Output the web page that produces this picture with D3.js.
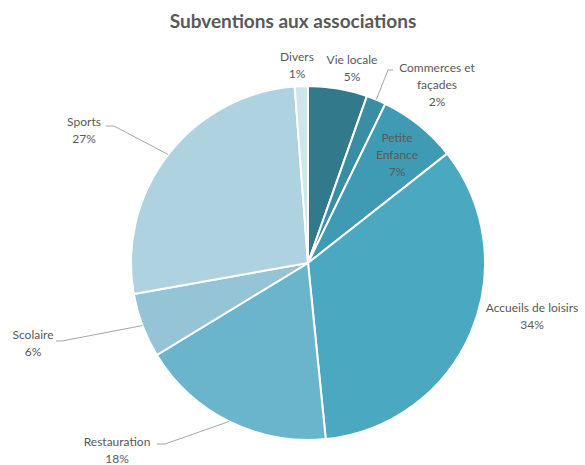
<!DOCTYPE html>
<html>
<head>
<meta charset="utf-8">
<script src="https://cdn.jsdelivr.net/npm/d3@7"></script>
<style>
  body { margin: 0; background: #fff; }
  text { font-family: Lato, 'Liberation Sans', sans-serif; fill: #595959; }
</style>
</head>
<body>
<div id="chart"></div>
<script>
var title = 'Subventions aux associations'
var categories = ['Vie locale', 'Commerces et façades', 'Petite Enfance', 'Accueils de loisirs', 'Restauration', 'Scolaire', 'Sports', 'Divers']
var values = [5.4, 1.8, 7.2, 34.0, 17.9, 5.9, 26.6, 1.2]
var colors = ['#31798b', '#3a8ea4', '#3f9bb3', '#4aa8c1', '#6bb5cc', '#94c4d5', '#aed2df', '#cfe4eb']

// label layout: lines of text and offset of first line from pie centre
var labelLines = [['Vie locale'], ['Commerces et', 'façades'], ['Petite', 'Enfance'], ['Accueils de loisirs'], ['Restauration'], ['Scolaire'], ['Sports'], ['Divers']]
var labelOffset = [[44, -203], [129, -195], [89, -125], [224, 45], [-191, 179], [-275, 72], [-224, -141], [-11, -206]]
// leader lines: [bend point offset, end point offset] or null
var leaders = [null, [[80, -193], [85, -193]], null, null, [[-143, 181], [-151, 181]], [[-246, 78], [-252, 78]], [[-194, -137], [-202, -137]], null]

var width = 585
var height = 465
var cx = 308
var cy = 263
var radius = 177

var svg = d3.select('#chart')
  .append('svg')
  .attr('width', width)
  .attr('height', height)

svg.append('text')
  .attr('x', 293)
  .attr('y', 28)
  .attr('text-anchor', 'middle')
  .attr('font-size', 19)
  .attr('font-weight', 'bold')
  .text(title)

var pie = d3.pie().sort(null).value(function (d) { return d })
var arcs = pie(values)

var arc = d3.arc().innerRadius(0).outerRadius(radius)

var g = svg.append('g')
  .attr('transform', 'translate(' + cx + ',' + cy + ')')

g.selectAll('path')
  .data(arcs)
  .enter()
  .append('path')
  .attr('d', arc)
  .attr('fill', function (d, i) { return colors[i] })
  .attr('stroke', '#fff')
  .attr('stroke-width', 2)

// leader lines start on the rim at slice middle
arcs.forEach(function (d, i) {
  if (!leaders[i]) return
  var a = (d.startAngle + d.endAngle) / 2
  var p0 = [radius * Math.sin(a), -radius * Math.cos(a)]
  g.append('polyline')
    .attr('points', [p0, leaders[i][0], leaders[i][1]].map(function (p) { return p.join(',') }).join(' '))
    .attr('fill', 'none')
    .attr('stroke', '#a6a6a6')
    .attr('stroke-width', 1)
})

arcs.forEach(function (d, i) {
  var t = g.append('text')
    .attr('text-anchor', 'middle')
    .attr('font-size', 12)
  var lines = labelLines[i].concat([Math.round(values[i]) + '%'])
  lines.forEach(function (s, j) {
    t.append('tspan')
      .attr('x', labelOffset[i][0])
      .attr('y', labelOffset[i][1] + j * 17)
      .attr('dy', '0.35em')
      .text(s)
  })
})
</script>
</body>
</html>
